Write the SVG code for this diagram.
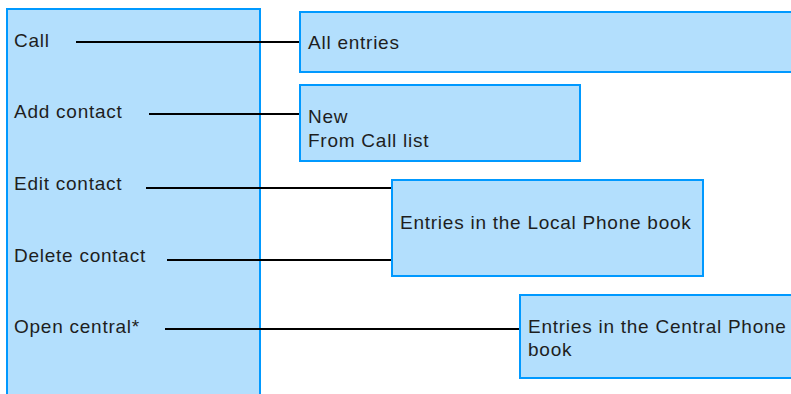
<svg xmlns="http://www.w3.org/2000/svg" width="791" height="394" viewBox="0 0 791 394">
  <style>
    .box { fill: #b3dffd; stroke: #0099ff; stroke-width: 2; }
    .lbl { font-family: "Liberation Sans", Arial, sans-serif; font-size: 19px; letter-spacing: 0.75px; fill: #1e1e1e; }
    .link { stroke: #000; stroke-width: 2; fill: none; }
  </style>
  <rect width="791" height="394" fill="#ffffff"/>

  <g id="menu">
    <rect class="box" x="7" y="9" width="253" height="400"/>
    <text class="lbl" x="14" y="47">Call</text>
    <text class="lbl" x="14" y="118">Add contact</text>
    <text class="lbl" x="14" y="190">Edit contact</text>
    <text class="lbl" x="14" y="262">Delete contact</text>
    <text class="lbl" x="14" y="333">Open central*</text>
  </g>

  <g id="connectors">
    <line class="link" x1="76" y1="42" x2="300" y2="42"/>
    <line class="link" x1="149" y1="114" x2="300" y2="114"/>
    <line class="link" x1="146" y1="188" x2="392" y2="188"/>
    <line class="link" x1="167" y1="260" x2="392" y2="260"/>
    <line class="link" x1="165" y1="329" x2="520" y2="329"/>
  </g>

  <g id="all-entries">
    <rect class="box" x="300" y="12" width="500" height="60"/>
    <text class="lbl" x="308" y="49">All entries</text>
  </g>

  <g id="add-options">
    <rect class="box" x="300" y="85" width="280" height="76"/>
    <text class="lbl" x="308" y="123">New</text>
    <text class="lbl" x="308" y="147">From Call list</text>
  </g>

  <g id="local-book">
    <rect class="box" x="392" y="180" width="311" height="96"/>
    <text class="lbl" x="400" y="229">Entries in the Local Phone book</text>
  </g>

  <g id="central-book">
    <rect class="box" x="520" y="295" width="280" height="83"/>
    <text class="lbl" x="528" y="333">Entries in the Central Phone</text>
    <text class="lbl" x="528" y="356">book</text>
  </g>
</svg>
